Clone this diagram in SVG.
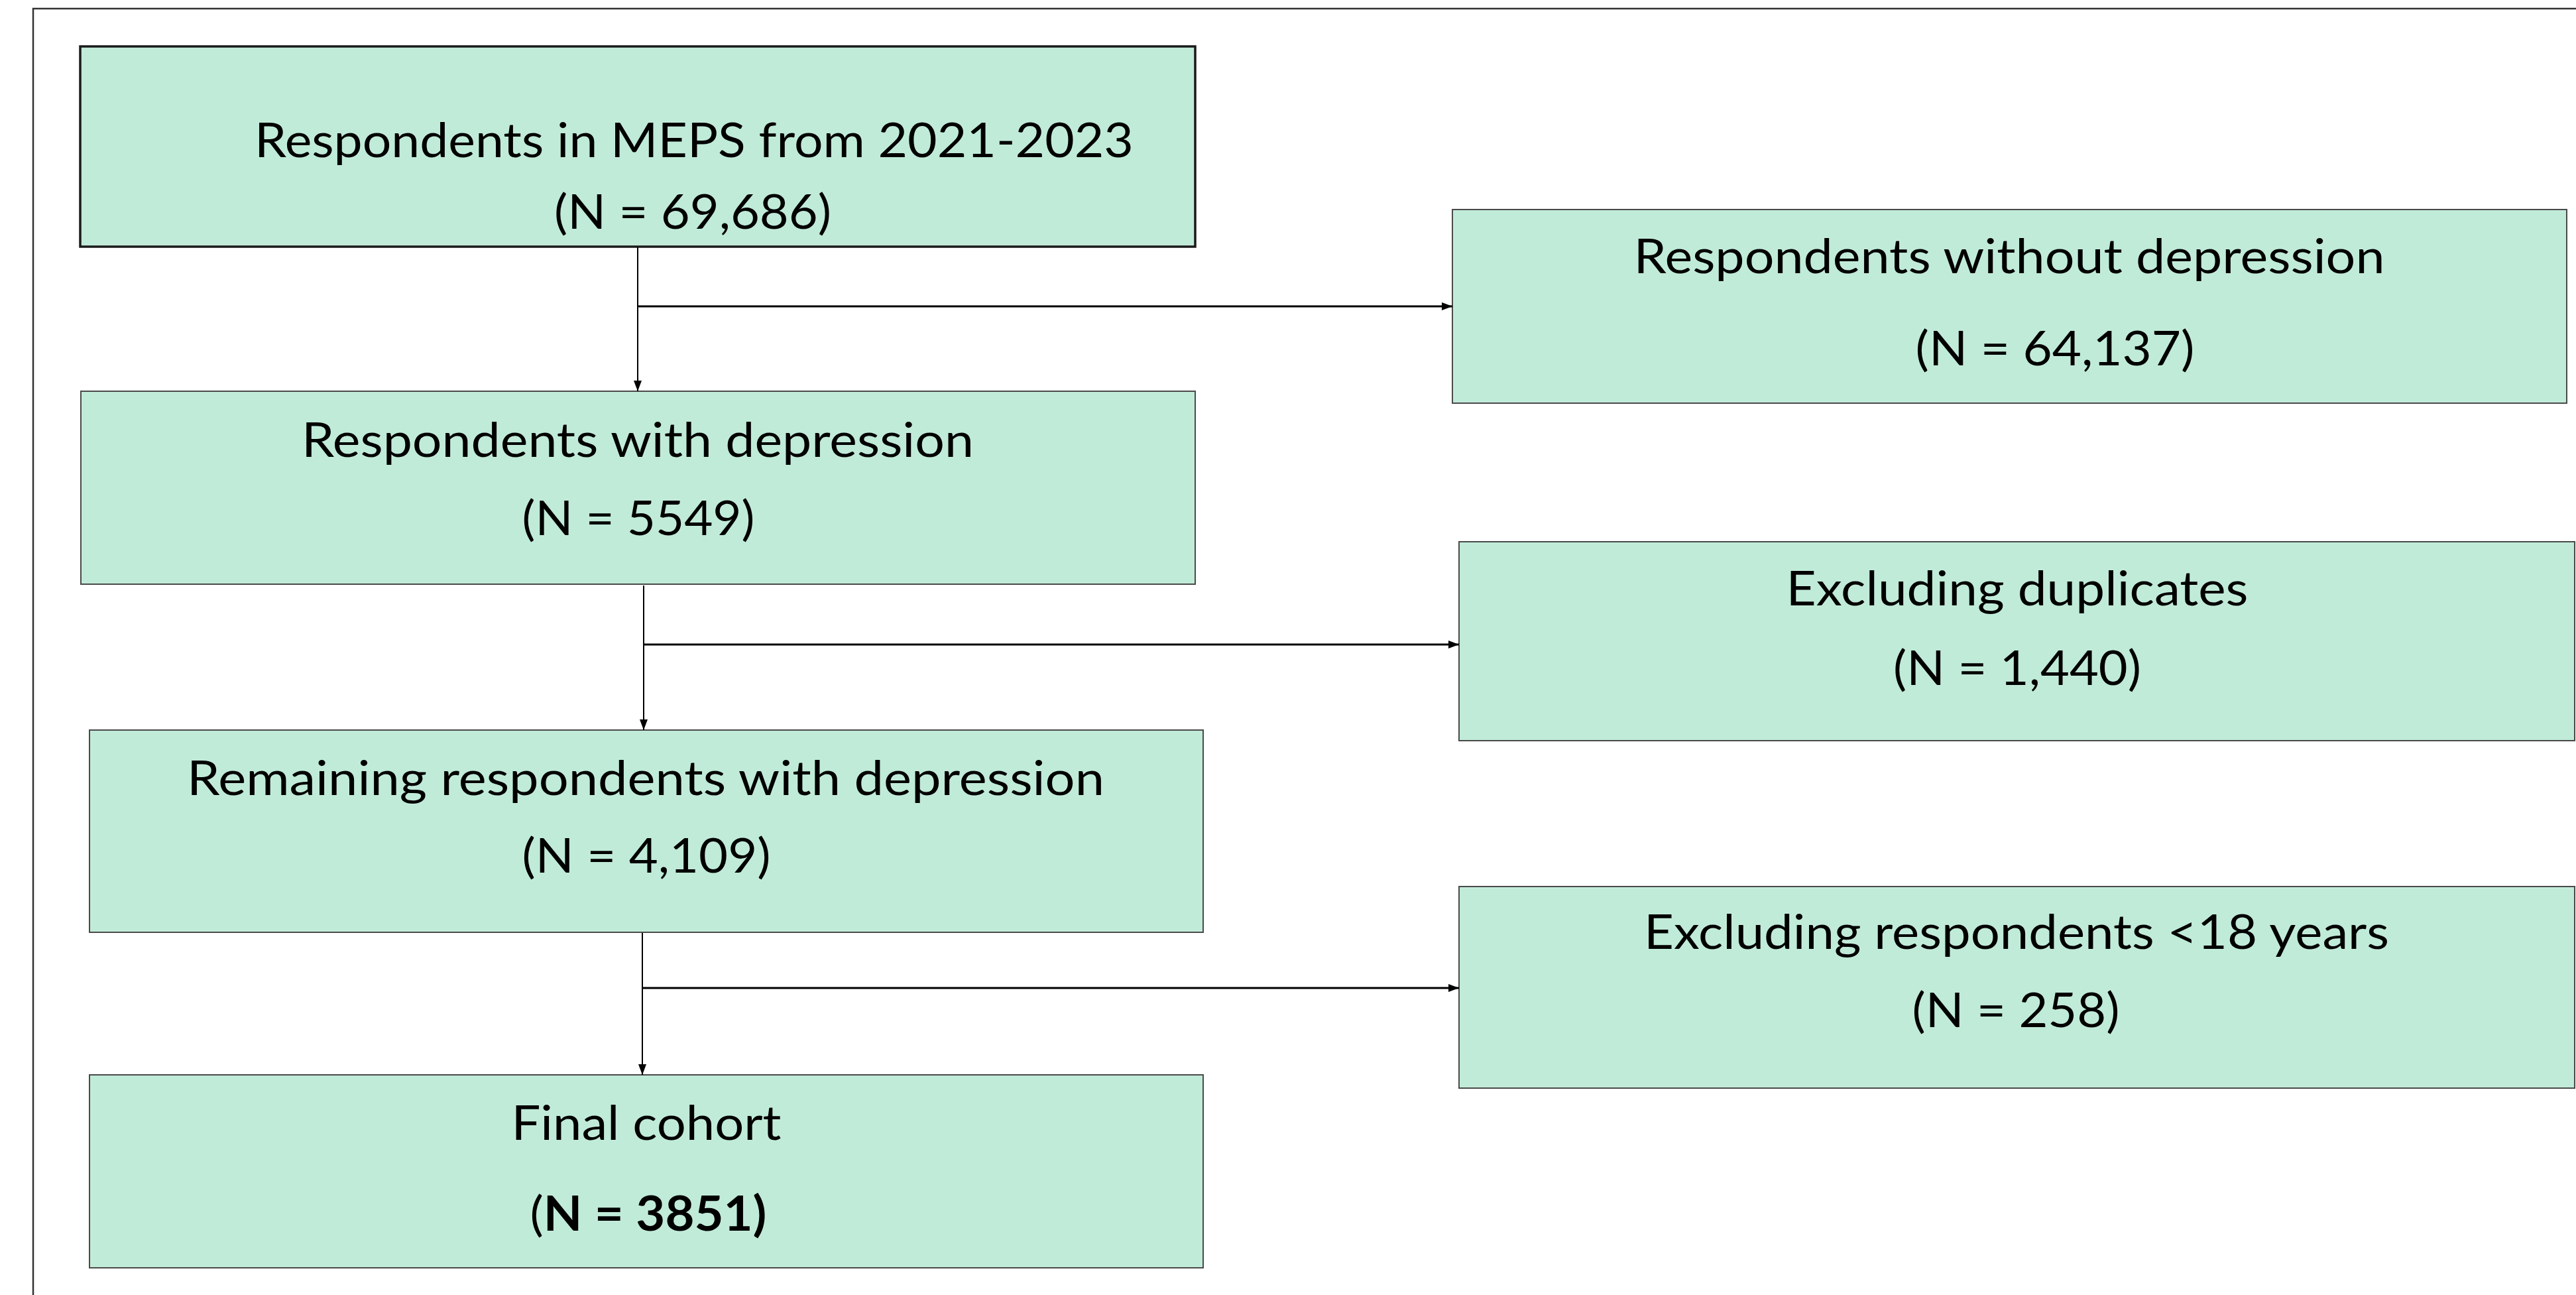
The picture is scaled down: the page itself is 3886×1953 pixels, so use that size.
<svg xmlns="http://www.w3.org/2000/svg" width="3886" height="1953" viewBox="0 0 3886 1953">
  <defs>
    <style>
      .box { fill: #c1ebd9; stroke: #4a4a4a; stroke-width: 2; }
      .box-main { fill: #c1ebd9; stroke: #1a1a1a; stroke-width: 3.5; }
      .lbl { font-family: Lato, "Open Sans", "Liberation Sans", sans-serif; font-size: 72px; fill: #000; text-anchor: middle; }
      .b { font-weight: bold; }
      .v { stroke: #000; stroke-width: 2; fill: none; }
      .h { stroke: #000; stroke-width: 3; fill: none; }
      .frame { stroke: #333; stroke-width: 2.5; fill: none; }
    </style>
    <marker id="arr" viewBox="0 0 16 12" refX="16" refY="6" markerWidth="16" markerHeight="12" markerUnits="userSpaceOnUse" orient="auto">
      <path d="M0,0 L16,6 L0,12 Z" fill="#000"/>
    </marker>
  </defs>
  <rect x="0" y="0" width="3886" height="1953" fill="#fff"/>
  <path class="frame" d="M50,1953 L50,13 L3886,13"/>

  <g id="n1">
    <rect class="box-main" x="121" y="70" width="1682" height="302"/>
    <text class="lbl" x="1047" y="237" textLength="1326" lengthAdjust="spacingAndGlyphs">Respondents in MEPS from 2021-2023</text>
    <text class="lbl" x="1045" y="345" textLength="418" lengthAdjust="spacingAndGlyphs">(N = 69,686)</text>
  </g>
  <g id="n2">
    <rect class="box" x="122" y="590" width="1681" height="291"/>
    <text class="lbl" x="962" y="689" textLength="1014" lengthAdjust="spacingAndGlyphs">Respondents with depression</text>
    <text class="lbl" x="963" y="807" textLength="351" lengthAdjust="spacingAndGlyphs">(N = 5549)</text>
  </g>
  <g id="n3">
    <rect class="box" x="135" y="1101" width="1680" height="305"/>
    <text class="lbl" x="974" y="1199" textLength="1384" lengthAdjust="spacingAndGlyphs">Remaining respondents with depression</text>
    <text class="lbl" x="975" y="1316" textLength="375" lengthAdjust="spacingAndGlyphs">(N = 4,109)</text>
  </g>
  <g id="n4">
    <rect class="box" x="135" y="1621" width="1680" height="291"/>
    <text class="lbl" x="975" y="1719" textLength="407" lengthAdjust="spacingAndGlyphs">Final cohort</text>
    <text class="lbl" x="978" y="1856" textLength="357" lengthAdjust="spacingAndGlyphs">(<tspan class="b">N = 3851)</tspan></text>
  </g>
  <g id="e1">
    <rect class="box" x="2191" y="316" width="1681" height="292"/>
    <text class="lbl" x="3031" y="412" textLength="1133" lengthAdjust="spacingAndGlyphs">Respondents without depression</text>
    <text class="lbl" x="3100" y="551" textLength="421" lengthAdjust="spacingAndGlyphs">(N = 64,137)</text>
  </g>
  <g id="e2">
    <rect class="box" x="2201" y="817" width="1683" height="300"/>
    <text class="lbl" x="3043" y="913" textLength="697" lengthAdjust="spacingAndGlyphs">Excluding duplicates</text>
    <text class="lbl" x="3043" y="1033" textLength="374" lengthAdjust="spacingAndGlyphs">(N = 1,440)</text>
  </g>
  <g id="e3">
    <rect class="box" x="2201" y="1337" width="1683" height="304"/>
    <text class="lbl" x="3042" y="1431" textLength="1124" lengthAdjust="spacingAndGlyphs">Excluding respondents &lt;18 years</text>
    <text class="lbl" x="3041" y="1549" textLength="313" lengthAdjust="spacingAndGlyphs">(N = 258)</text>
  </g>

  <g id="connectors">
    <line class="v" x1="962" y1="373" x2="962" y2="590" marker-end="url(#arr)"/>
    <line class="h" x1="962" y1="462" x2="2191" y2="462" marker-end="url(#arr)"/>
    <line class="v" x1="971" y1="883" x2="971" y2="1101" marker-end="url(#arr)"/>
    <line class="h" x1="971" y1="972" x2="2201" y2="972" marker-end="url(#arr)"/>
    <line class="v" x1="969" y1="1407" x2="969" y2="1621" marker-end="url(#arr)"/>
    <line class="h" x1="969" y1="1490" x2="2201" y2="1490" marker-end="url(#arr)"/>
  </g>
</svg>
